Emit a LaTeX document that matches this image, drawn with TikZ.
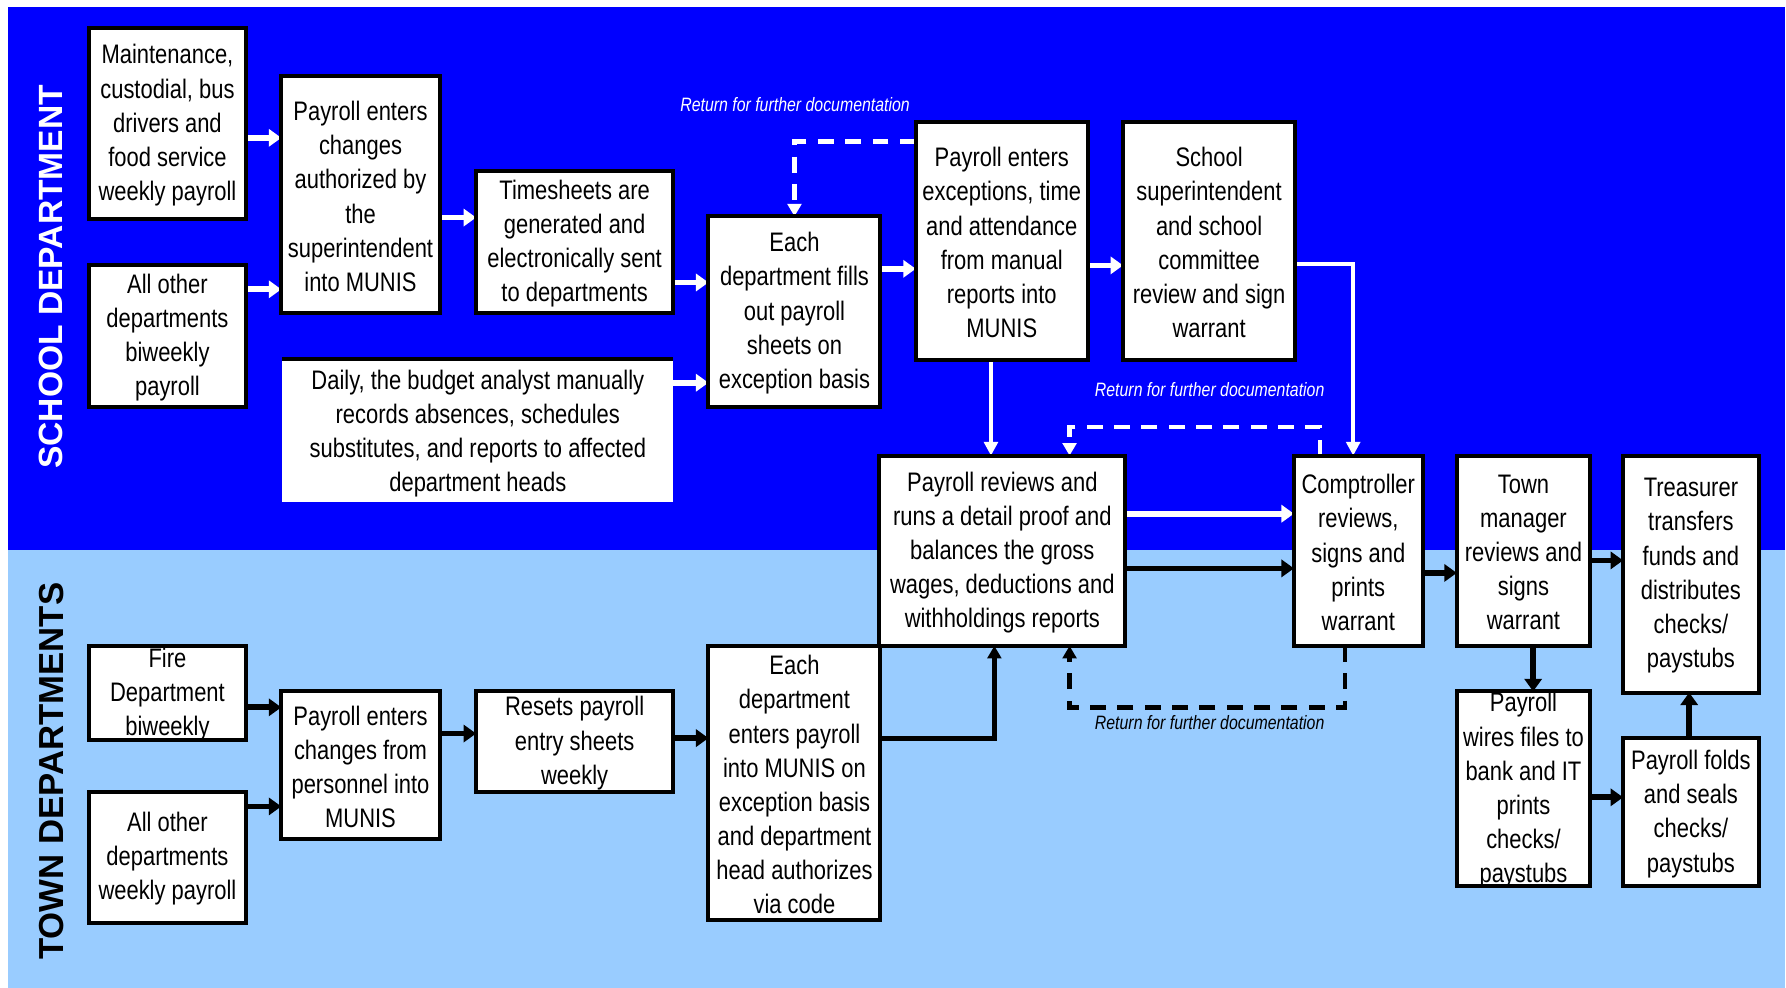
\documentclass[tikz,border=0pt]{standalone}
\usepackage{fontspec}
\setmainfont{Liberation Sans}[FakeStretch=0.82]
\newfontfamily\widefont{Liberation Sans}
\usetikzlibrary{arrows.meta}
\definecolor{dblue}{HTML}{0000FF}
\definecolor{lblue}{HTML}{99CCFF}
\pgfdeclarelayer{bg}
\pgfdeclarelayer{arrl}
\pgfsetlayers{bg,arrl,main}
\newcommand{\pbox}[6]{%
  \pgfmathsetmacro{\bw}{#4-#2}\pgfmathsetmacro{\bh}{#5-#3}%
  \pgfmathsetmacro{\bx}{(#2+#4)/2}\pgfmathsetmacro{\by}{(#3+#5)/2}%
  \pgfmathsetmacro{\ty}{\by+1.5}%
  \node[boxsty, minimum width=\bw pt, minimum height=\bh pt] (#1) at (\bx,\by) {};
  \node[txtsty] (#1t) at (\bx,\ty) {#6};}
\begin{document}
\begin{tikzpicture}[x=1pt,y=-1pt,
  boxsty/.style={draw=black, line width=3.5pt, fill=white, inner sep=0pt, outer sep=0pt},
  txtsty/.style={align=center, inner sep=0pt, font=\fontsize{23.5}{30}\selectfont, text=black},
  warr/.style={draw=white, line width=5pt, -{Triangle[length=11pt,width=15pt]}},
  barr/.style={draw=black, line width=5pt, -{Triangle[length=11pt,width=15pt]}},
  wthin/.style={draw=white, line width=3.5pt, line join=miter, -{Triangle[length=12pt,width=12pt]}},
  bline/.style={draw=black, line width=4.5pt, line join=miter, -{Triangle[length=11pt,width=12pt]}},
  wdash/.style={draw=white, line width=4pt, dash pattern=on 14pt off 10pt, -{Triangle[length=11pt,width=12pt]}},
  bdash/.style={draw=black, line width=4pt, dash pattern=on 14pt off 10pt, -{Triangle[length=11pt,width=12pt]}},
  rlab/.style={font=\itshape\fontsize{17}{20}\selectfont, inner sep=0pt},
  side/.style={rotate=90, inner sep=0pt}
]
\useasboundingbox (0,0) rectangle (1568,867);
\begin{pgfonlayer}{bg}
\fill[dblue] (7,6) rectangle (1567,483);
\fill[lblue] (7,483) rectangle (1567,867);
\end{pgfonlayer}

\node[side, text=white, font=\widefont\bfseries\fontsize{29.5}{30}\selectfont] (schl) at (45,243) {SCHOOL DEPARTMENT};
\node[side, text=black, font=\widefont\bfseries\fontsize{30.5}{31}\selectfont] (town) at (45,677) {TOWN DEPARTMENTS};

% school department boxes
\pbox{b1}{78}{25}{216}{192}{Maintenance,\\custodial, bus\\drivers and\\food service\\weekly payroll}
\pbox{b2}{78}{233}{216}{357}{All other\\departments\\biweekly\\payroll}
\pbox{b3}{247}{67}{386}{275}{Payroll enters\\changes\\authorized by\\the\\superintendent\\into MUNIS}
\pbox{b4}{418}{150}{591}{275}{Timesheets are\\generated and\\electronically sent\\to departments}
\node[fill=white, inner sep=0pt, minimum width=343pt, minimum height=126pt] (b5) at (419.5,378) {};
\draw[line width=3.5pt] (b5.north west) -- (b5.north east);
\node[txtsty] (b5t) at (419.5,380.5) {Daily, the budget analyst manually\\records absences, schedules\\substitutes, and reports to affected\\department heads};
\pbox{b6}{622}{190}{773}{357}{Each\\department fills\\out payroll\\sheets on\\exception basis}
\pbox{b7}{804}{107}{955}{316}{Payroll enters\\exceptions, time\\and attendance\\from manual\\reports into\\MUNIS}
\pbox{b8}{986}{107}{1137}{316}{School\\superintendent\\and school\\committee\\review and sign\\warrant}
% shared / later boxes
\pbox{b9}{772}{400}{988}{567}{Payroll reviews and\\runs a detail proof and\\balances the gross\\wages, deductions and\\withholdings reports}
\pbox{b10}{1136}{400}{1249}{567}{Comptroller\\reviews,\\signs and\\prints\\warrant}
\pbox{b11}{1279}{400}{1396}{567}{Town\\manager\\reviews and\\signs\\warrant}
\pbox{b12}{1425}{400}{1544}{608}{Treasurer\\transfers\\funds and\\distributes\\checks/\\paystubs}
\pbox{b13}{1279}{607}{1396}{778}{Payroll\\wires files to\\bank and IT\\prints\\checks/\\paystubs}
\pbox{b14}{1425}{648}{1544}{778}{Payroll folds\\and seals\\checks/\\paystubs}
% town boxes
\pbox{b15}{78}{567}{216}{650}{Fire\\Department\\biweekly}
\pbox{b16}{78}{695}{216}{810}{All other\\departments\\weekly payroll}
\pbox{b17}{247}{607}{386}{737}{Payroll enters\\changes from\\personnel into\\MUNIS}
\pbox{b18}{418}{607}{591}{695}{Resets payroll\\entry sheets\\weekly}
\pbox{b19}{622}{567}{773}{808}{Each\\department\\enters payroll\\into MUNIS on\\exception basis\\and department\\head authorizes\\via code}

% labels
\node[rlab, text=white] (r1) at (698,92) {Return for further documentation};
\node[rlab, text=white] (r2) at (1062,342) {Return for further documentation};
\node[rlab, text=black] (r3) at (1062,634) {Return for further documentation};

\begin{pgfonlayer}{arrl}
% school arrows
\draw[warr] (b1.east |- 0,121) -- (b3.west |- 0,121);
\draw[warr] (b2.east |- 0,254) -- (b3.west |- 0,254);
\draw[warr] (b3.east |- 0,191) -- (b4.west |- 0,191);
\draw[warr] (b4.east |- 0,248) -- (b6.west |- 0,248);
\draw[warr] (b5.east |- 0,336) -- (b6.west |- 0,336);
\draw[warr] (b6.east |- 0,236) -- (b7.west |- 0,236);
\draw[warr] (b7.east |- 0,233) -- (b8.west |- 0,233);
\draw[wthin] (b7.south -| 870,0) -- (b9.north -| 870,0);
\draw[wthin] (b8.east |- 0,232) -| (b10.north -| 1188,0);
\draw[wdash] (b7.west |- 0,124) -| (b6.north);
\draw[wdash] (b10.north -| 1159,0) -- ++(0,-25) -| (b9.north -| 939,0);
\draw[warr] (b9.east |- 0,451) -- (b10.west |- 0,451);
% town arrows
\draw[barr] (b9.east |- 0,499) -- (b10.west |- 0,499);
\draw[barr] (b10.east |- 0,503) -- (b11.west |- 0,503);
\draw[barr] (b11.east |- 0,492) -- (b12.west |- 0,492);
\draw[barr] (b11.south -| 1346,0) -- (b13.north -| 1346,0);
\draw[barr] (b13.east |- 0,700) -- (b14.west |- 0,700);
\draw[barr] (b14.north -| 1483,0) -- (b12.south -| 1483,0);
\draw[bdash] (b10.south -| 1181,0) -- ++(0,54) -| (b9.south -| 939,0);
\draw[barr] (b15.east |- 0,621) -- (b17.west |- 0,621);
\draw[barr] (b16.east |- 0,708) -- (b17.west |- 0,708);
\draw[barr] (b17.east |- 0,644) -- (b18.west |- 0,644);
\draw[barr] (b18.east |- 0,648) -- (b19.west |- 0,648);
\draw[bline] (b19.east |- 0,648) -| (b9.south -| 873,0);
\end{pgfonlayer}
\end{tikzpicture}
\end{document}
